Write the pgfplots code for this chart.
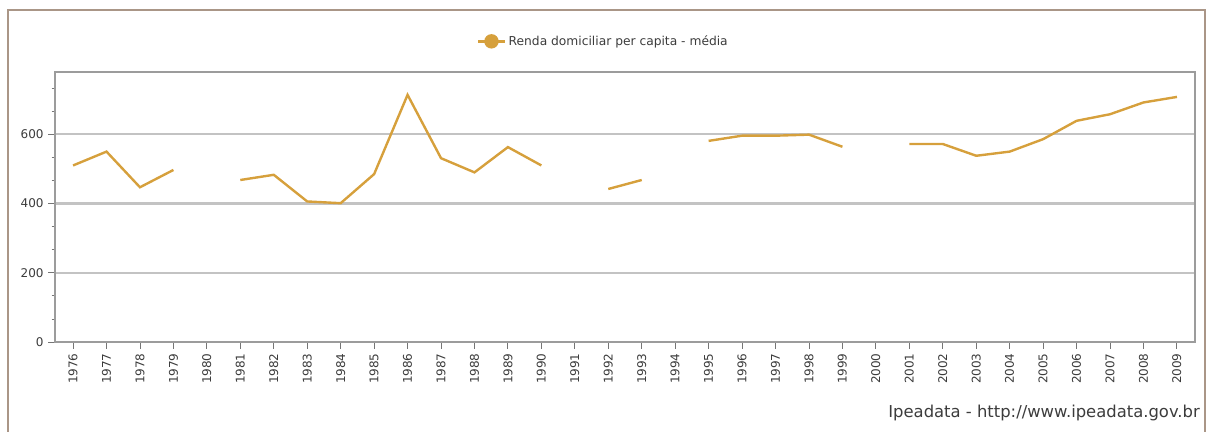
\documentclass[border=0pt]{standalone}
\usepackage{pgfplots}
\pgfplotsset{compat=1.18}
\usepackage{fontspec}
\setmainfont{DejaVu Sans}
\definecolor{serie}{RGB}{214,160,60}
\definecolor{framec}{RGB}{170,150,135}
\definecolor{gridc}{RGB}{195,195,195}
\definecolor{txt}{RGB}{60,60,60}
\begin{document}
\begin{tikzpicture}[x=1pt,y=1pt]
\path[use as bounding box] (0,0) rectangle (905.25,324);
\draw[framec,line width=1.5pt] (6,0) -- (6,316.5) -- (904,316.5) -- (904,0);
\begin{axis}[
  at={(41.25pt,67.5pt)}, anchor=south west,
  scale only axis, width=855pt, height=202.5pt,
  xmin=1975.46, xmax=2009.54, ymin=0, ymax=780,
  xtick={1976,...,2009},
  minor x tick num=4,
  ytick={0,200,400,600},
  minor ytick={66.67,133.33,266.67,333.33,466.67,533.33,666.67,733.33},
  ymajorgrids, major grid style={gridc,line width=1.7pt},
  axis line style={gridc!80!black,line width=1pt},
  tick style={gridc!60!black,line width=0.6pt},
  major tick length=5pt, minor tick length=2.5pt,
  tick align=outside, xtick pos=bottom, ytick pos=left,
  xticklabel style={rotate=90,anchor=east,font=\fontsize{9}{10}\selectfont,text=txt},
  yticklabel style={font=\fontsize{9}{10}\selectfont,text=txt},
  xticklabel={\pgfmathprintnumber[1000 sep={}]{\tick}},
  /pgf/number format/assume math mode=true,
  /pgf/number format/1000 sep={},
  unbounded coords=jump,
  legend style={draw=none,fill=none,at={(0.5,1)},anchor=center,yshift=23pt,xshift=-16pt,font=\fontsize{9.2}{10}\selectfont,text=txt},
  legend image code/.code={\draw[serie,line width=1.8pt] (0pt,0pt) -- (20pt,0pt); \fill[serie] (10pt,0pt) circle (4.5pt);},
]
\addplot[serie,line width=1.8pt] coordinates {
(1976,510) (1977,550) (1978,447) (1979,497) (1980,nan)
(1981,468) (1982,483) (1983,406) (1984,401) (1985,485) (1986,714) (1987,531) (1988,490) (1989,563) (1990,510) (1991,nan)
(1992,442) (1993,468) (1994,nan)
(1995,581) (1996,596) (1997,596) (1998,599) (1999,564) (2000,nan)
(2001,572) (2002,572) (2003,538) (2004,550) (2005,586) (2006,639) (2007,658) (2008,692) (2009,708)
};
\addlegendentry{Renda domiciliar per capita - média}
\end{axis}
\node[anchor=base east,text=txt,font=\fontsize{12.3}{14}\selectfont,inner sep=0pt] at (900,10.5) {Ipeadata - http://www.ipeadata.gov.br};
\end{tikzpicture}
\end{document}
